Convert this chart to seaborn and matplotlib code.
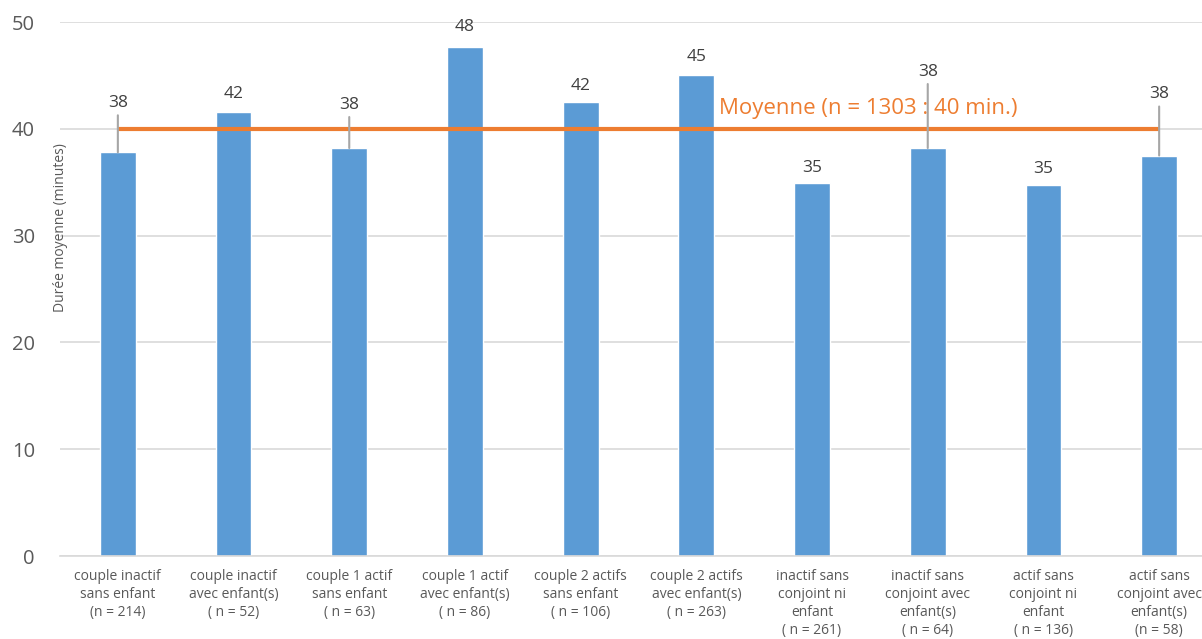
import matplotlib
matplotlib.use("Agg")
import matplotlib.pyplot as plt
import seaborn as sns
import pandas as pd

# Categories (household type and sample size) and mean duration in minutes
categories = [
    "couple inactif\nsans enfant\n(n = 214)",
    "couple inactif\navec enfant(s)\n( n = 52)",
    "couple 1 actif\nsans enfant\n( n = 63)",
    "couple 1 actif\navec enfant(s)\n( n = 86)",
    "couple 2 actifs\nsans enfant\n( n = 106)",
    "couple 2 actifs\navec enfant(s)\n( n = 263)",
    "inactif sans\nconjoint ni\nenfant\n( n = 261)",
    "inactif sans\nconjoint avec\nenfant(s)\n( n = 64)",
    "actif sans\nconjoint ni\nenfant\n( n = 136)",
    "actif sans\nconjoint avec\nenfant(s)\n(n = 58)",
]
durations = [37.8, 41.6, 38.2, 47.7, 42.5, 45.0, 34.9, 38.2, 34.7, 37.5]
mean_duration = 40
mean_label = "Moyenne (n = 1303 : 40 min.)"
y_ticks = [0, 10, 20, 30, 40, 50]
y_label = "Durée moyenne (minutes)"

# Label placement (pixels above bar top) and which labels get a leader line
label_offset_px = [49, 18, 43, 20, 16, 18, 15, 76, 16, 61]
has_leader = [True, False, True, False, False, False, False, True, False, True]

BLUE = "#5B9BD5"
ORANGE = "#ED7D31"
GRID = "#D9D9D9"
TEXT = "#595959"
LABEL = "#404040"
LEADER = "#A6A6A6"

sns.set_theme(style="white")
plt.rcParams["font.family"] = ["Open Sans", "DejaVu Sans"]

W, H = 1202, 639
fig = plt.figure(figsize=(W / 100, H / 100), dpi=100)
ax = fig.add_axes([60 / W, (H - 556) / H, 1157 / W, 534 / H])

df = pd.DataFrame({"cat": categories, "val": durations})
sns.barplot(data=df, x="cat", y="val", color=BLUE, saturation=1,
            width=0.31, ax=ax, zorder=2, errorbar=None)

ax.set_xlim(-0.5, len(categories) - 0.5)
ax.set_ylim(0, 50)
ax.set_yticks(y_ticks)
ax.set_yticklabels([str(t) for t in y_ticks], fontsize=14.5, color=TEXT)
ax.tick_params(axis="y", length=0, pad=18)
ax.tick_params(axis="x", length=0, pad=9, labelsize=10, labelcolor=TEXT)
for lbl in ax.get_xticklabels():
    lbl.set_linespacing(1.28)
ax.set_xlabel("")
ax.set_ylabel("")

for s in ["top", "right", "left"]:
    ax.spines[s].set_visible(False)
ax.spines["bottom"].set_color(GRID)
ax.spines["bottom"].set_linewidth(1.2)

ax.yaxis.grid(True, color=GRID, linewidth=1.2, zorder=0)
ax.set_axisbelow(True)

# Average line across the categories
ax.hlines(mean_duration, 0, len(categories) - 1, color=ORANGE, linewidth=3, zorder=3)
ax.text(5.2, 41.9, mean_label, color=ORANGE, fontsize=16, va="center", ha="left", zorder=4)

# Value labels, some with leader lines
for i, (v, off, lead) in enumerate(zip(durations, label_offset_px, has_leader)):
    if lead:
        ax.annotate("", xy=(i, v), xytext=(0, off - 12), textcoords="offset pixels",
                    arrowprops=dict(arrowstyle="-", color=LEADER, lw=1.5,
                                    shrinkA=0, shrinkB=0), zorder=5)
    ax.annotate(f"{v:.0f}", xy=(i, v), xytext=(0, off), textcoords="offset pixels",
                ha="center", va="center", fontsize=12.5, color=LABEL, zorder=6)

fig.text(60 / W, (H - 228) / H, y_label, rotation=90, ha="center", va="center",
         fontsize=10, color=TEXT)

fig.savefig("out.png", dpi=100)
